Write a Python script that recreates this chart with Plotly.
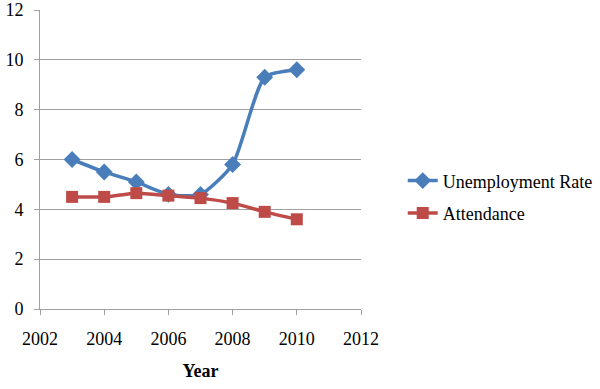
import plotly.graph_objects as go

years = [2003, 2004, 2005, 2006, 2007, 2008, 2009, 2010]
unemployment = [6.0, 5.5, 5.1, 4.6, 4.6, 5.8, 9.3, 9.6]
attendance = [4.5, 4.5, 4.65, 4.55, 4.45, 4.25, 3.9, 3.6]
x_ticks = [2002, 2004, 2006, 2008, 2010, 2012]
y_ticks = [0, 2, 4, 6, 8, 10, 12]

font_family = "Liberation Serif, DejaVu Serif, serif"

fig = go.Figure()
fig.add_trace(go.Scatter(
    x=years, y=unemployment, name="Unemployment Rate", mode="lines+markers",
    legendgroup="u",
    line=dict(color="#4A7EBB", width=3.5, shape="spline", smoothing=0.6),
    marker=dict(symbol="diamond", size=13, color="#4A7EBB"),
))
fig.add_trace(go.Scatter(
    x=years, y=attendance, name="Attendance", mode="lines+markers",
    legendgroup="a",
    line=dict(color="#BE4B48", width=3.5, shape="spline", smoothing=0.6),
    marker=dict(symbol="square", size=12, color="#BE4B48"),
))

fig.update_layout(
    width=600, height=389,
    margin=dict(l=40, r=239, t=10, b=80, autoexpand=False),
    paper_bgcolor="white", plot_bgcolor="white",
    font=dict(family=font_family, size=18, color="black"),
    showlegend=True,
    legend=dict(x=1.13, y=0.375, xanchor="left", yanchor="middle",
                font=dict(family=font_family, size=18, color="black"),
                tracegroupgap=6, bgcolor="rgba(0,0,0,0)"),
    xaxis=dict(
        range=[2002, 2012], tickvals=x_ticks, ticktext=[str(v) for v in x_ticks],
        showgrid=False, zeroline=False, showline=True, linecolor="#A0A0A0", linewidth=1,
        ticks="outside", ticklen=5, tickcolor="#A0A0A0", automargin=False,
        tickfont=dict(family=font_family, size=18), ticklabelstandoff=8,
        title=dict(text="<b>Year</b>", font=dict(family=font_family, size=18), standoff=16),
    ),
    yaxis=dict(
        range=[0, 12], tickvals=y_ticks,
        showgrid=True, gridcolor="#A0A0A0", gridwidth=1, zeroline=False,
        showline=True, linecolor="#A0A0A0", linewidth=1, automargin=False,
        ticks="outside", ticklen=5, tickcolor="#A0A0A0",
        tickfont=dict(family=font_family, size=18), ticklabelstandoff=7,
    ),
)

fig.write_html("out.html", config={"displayModeBar": False},
               post_script="document.body.style.margin='0';")
